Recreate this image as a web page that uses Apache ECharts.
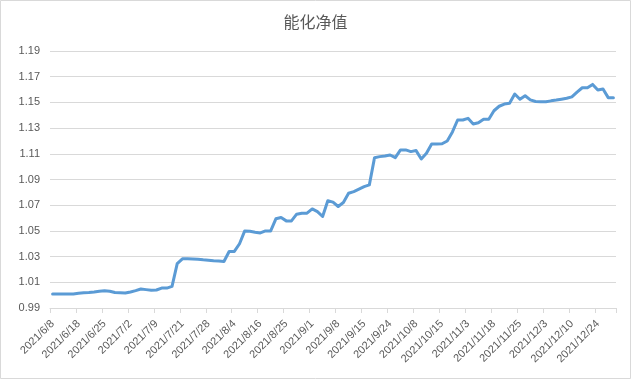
<!DOCTYPE html>
<html>
<head>
<meta charset="utf-8">
<script src="https://cdn.jsdelivr.net/npm/echarts@6/dist/echarts.min.js"></script>
<style>
html,body{margin:0;padding:0;background:#fff;}
#chart{width:631px;height:379px;}
</style>
</head>
<body>
<div id="chart"></div>
<script>
const title = '能化净值';
const dates = [
'2021/6/8','2021/6/9','2021/6/10','2021/6/11','2021/6/15',
'2021/6/18','2021/6/21','2021/6/22','2021/6/23','2021/6/24',
'2021/6/25','2021/6/28','2021/6/29','2021/6/30','2021/7/1',
'2021/7/2','2021/7/5','2021/7/6','2021/7/7','2021/7/8',
'2021/7/9','2021/7/12','2021/7/14','2021/7/16','2021/7/19',
'2021/7/21','2021/7/22','2021/7/23','2021/7/26','2021/7/27',
'2021/7/28','2021/7/29','2021/7/30','2021/8/2','2021/8/3',
'2021/8/4','2021/8/6','2021/8/9','2021/8/11','2021/8/13',
'2021/8/16','2021/8/18','2021/8/19','2021/8/20','2021/8/23',
'2021/8/25','2021/8/26','2021/8/27','2021/8/30','2021/8/31',
'2021/9/1','2021/9/2','2021/9/3','2021/9/6','2021/9/7',
'2021/9/8','2021/9/9','2021/9/10','2021/9/13','2021/9/14',
'2021/9/15','2021/9/16','2021/9/17','2021/9/22','2021/9/23',
'2021/9/24','2021/9/27','2021/9/28','2021/9/29','2021/9/30',
'2021/10/8','2021/10/11','2021/10/12','2021/10/13','2021/10/14',
'2021/10/15','2021/10/18','2021/10/20','2021/10/25','2021/10/29',
'2021/11/3','2021/11/5','2021/11/9','2021/11/12','2021/11/16',
'2021/11/18','2021/11/19','2021/11/22','2021/11/23','2021/11/24',
'2021/11/25','2021/11/26','2021/11/29','2021/11/30','2021/12/1',
'2021/12/3','2021/12/6','2021/12/7','2021/12/8','2021/12/9',
'2021/12/10','2021/12/13','2021/12/15','2021/12/17','2021/12/22',
'2021/12/24','2021/12/27','2021/12/28','2021/12/29'
];
const nav = [
1.0009,1.0009,1.0009,1.0009,1.0009,
1.0015,1.0018,1.0020,1.0025,1.0031,
1.0034,1.0030,1.0021,1.0019,1.0017,
1.0025,1.0035,1.0048,1.0043,1.0038,
1.0040,1.0055,1.0055,1.0068,1.0245,
1.0283,1.0283,1.0282,1.0279,1.0275,
1.0272,1.0268,1.0265,1.0262,1.0340,
1.0340,1.0400,1.0500,1.0497,1.0490,
1.0484,1.0500,1.0500,1.0594,1.0604,
1.0578,1.0578,1.0630,1.0638,1.0638,
1.0671,1.0650,1.0612,1.0734,1.0724,
1.0690,1.0721,1.0793,1.0806,1.0825,
1.0845,1.0858,1.1070,1.1078,1.1083,
1.1091,1.1070,1.1130,1.1130,1.1117,
1.1125,1.1060,1.1104,1.1177,1.1177,
1.1178,1.1200,1.1270,1.1363,1.1363,
1.1376,1.1332,1.1342,1.1369,1.1369,
1.1435,1.1470,1.1487,1.1493,1.1565,
1.1524,1.1552,1.1520,1.1507,1.1505,
1.1505,1.1512,1.1518,1.1525,1.1532,
1.1543,1.1580,1.1614,1.1614,1.1640,
1.1596,1.1604,1.1537,1.1537
];
const yMin = 0.99, yMax = 1.19, yStep = 0.02;

const chart = echarts.init(document.getElementById('chart'), null, {renderer: 'canvas'});
chart.setOption({
  animation: false,
  backgroundColor: '#ffffff',
  title: {
    text: title, left: 'center', top: 9,
    textStyle: {fontFamily: 'Noto Sans CJK SC', fontSize: 16, fontWeight: 'normal', color: '#595959'}
  },
  graphic: [{type: 'rect', shape: {x: 0.5, y: 0.5, width: 630, height: 378}, style: {fill: 'none', stroke: '#d9d9d9', lineWidth: 1}}],
  grid: {left: 50, right: 15, top: 51, bottom: 71, containLabel: false},
  xAxis: {
    type: 'category', data: dates, boundaryGap: true,
    axisLine: {lineStyle: {color: '#d9d9d9'}},
    axisTick: {show: true, interval: 4, length: 5, lineStyle: {color: '#d9d9d9'}},
    axisLabel: {interval: 4, rotate: 45, margin: 14, fontSize: 11, color: '#595959', fontFamily: 'Liberation Sans'},
    splitLine: {show: false}
  },
  yAxis: {
    type: 'value', min: yMin, max: yMax, interval: yStep,
    axisLine: {show: false}, axisTick: {show: false},
    axisLabel: {fontSize: 11, color: '#595959', margin: 10, fontFamily: 'Liberation Sans', formatter: v => v.toFixed(2)},
    splitLine: {lineStyle: {color: '#d9d9d9', width: 1}}
  },
  series: [{
    type: 'line', data: nav, showSymbol: false, smooth: false,
    lineStyle: {color: '#5b9bd5', width: 3, cap: 'round', join: 'round'},
    itemStyle: {color: '#5b9bd5'}
  }]
});
</script>
</body>
</html>
